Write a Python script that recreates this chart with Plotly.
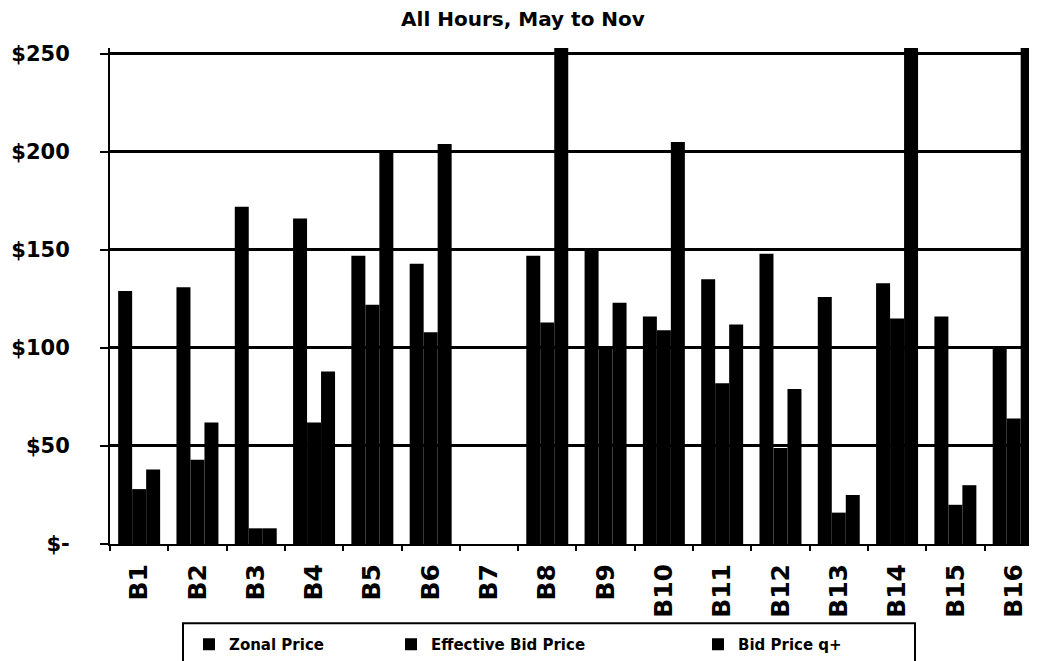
import plotly.graph_objects as go

# categories and series
categories = ["B1", "B2", "B3", "B4", "B5", "B6", "B7", "B8",
              "B9", "B10", "B11", "B12", "B13", "B14", "B15", "B16"]
zonal_price = [129, 131, 172, 166, 147, 143, None, 147, 150, 116, 135, 148, 126, 133, 116, 101]
effective_bid = [28, 43, 8, 62, 122, 108, None, 113, 100, 109, 82, 49, 16, 115, 20, 64]
bid_price_q = [38, 62, 8, 88, 200, 204, None, 255, 123, 205, 112, 79, 25, 255, 30, 255]  # 255 = off the top of the scale

y_ticks = [0, 50, 100, 150, 200, 250]
y_labels = ["$-", "$50", "$100", "$150", "$200", "$250"]

# page has an 8px body margin, so the figure is sized/placed to compensate
OFF = 8
W, H = 1037 - OFF, 661 - OFF
L, T = 110 - OFF, 48 - OFF
B = H - (548 - OFF)
plot_w = W - L
plot_h = H - T - B


def px_x(page_x):
    return (page_x - OFF - L) / plot_w


def px_y(page_y):
    return (H - B - (page_y - OFF)) / plot_h


bold = dict(family="DejaVu Sans", color="black", weight="bold")

fig = go.Figure()
series = [("Zonal Price", zonal_price, "legend", 189),
          ("Effective Bid Price", effective_bid, "legend2", 391),
          ("Bid Price q+", bid_price_q, "legend3", 698)]
for name, vals, leg, _ in series:
    fig.add_trace(go.Bar(x=categories, y=vals, name=name, legend=leg,
                         marker=dict(color="black", line=dict(width=0))))

legends = {}
for name, vals, leg, lx in series:
    legends[leg] = dict(x=px_x(lx), xanchor="left", y=px_y(633), yanchor="top",
                        bgcolor="rgba(0,0,0,0)", borderwidth=0,
                        font=dict(size=15, **bold), orientation="h")

fig.update_layout(
    width=W, height=H,
    margin=dict(l=L, r=0, t=T, b=B),
    paper_bgcolor="white", plot_bgcolor="white",
    barmode="group", bargap=0.28, bargroupgap=0,
    title=dict(text="All Hours, May to Nov", x=(523 - OFF) / W, xanchor="center",
               xref="container", y=1 - 4 / H, yanchor="top",
               font=dict(size=20, **bold)),
    showlegend=True,
    **legends,
)

fig.update_xaxes(
    range=[-0.5, 15.4], tickangle=-90, tickfont=dict(size=25, **bold),
    ticklabelstandoff=8,
    showline=True, linecolor="black", linewidth=2,
    ticks="outside", tickson="boundaries", ticklen=5, tickcolor="black", tickwidth=1.5,
    showgrid=False,
)
fig.update_yaxes(
    range=[0, 253], tickvals=y_ticks, ticktext=y_labels,
    tickfont=dict(size=21, **bold), ticklabelstandoff=26,
    showline=True, linecolor="black", linewidth=2, zeroline=False,
    ticks="outside", ticklen=8, tickcolor="black", tickwidth=1.5,
    showgrid=True, gridcolor="black", gridwidth=2.5,
)

# legend frame, running off the bottom of the picture like the reference
fig.add_shape(type="rect", xref="paper", yref="paper",
              x0=px_x(183), x1=px_x(915), y0=px_y(628), y1=px_y(700),
              line=dict(color="black", width=2), fillcolor="rgba(0,0,0,0)")

fig.write_html("out.html")
